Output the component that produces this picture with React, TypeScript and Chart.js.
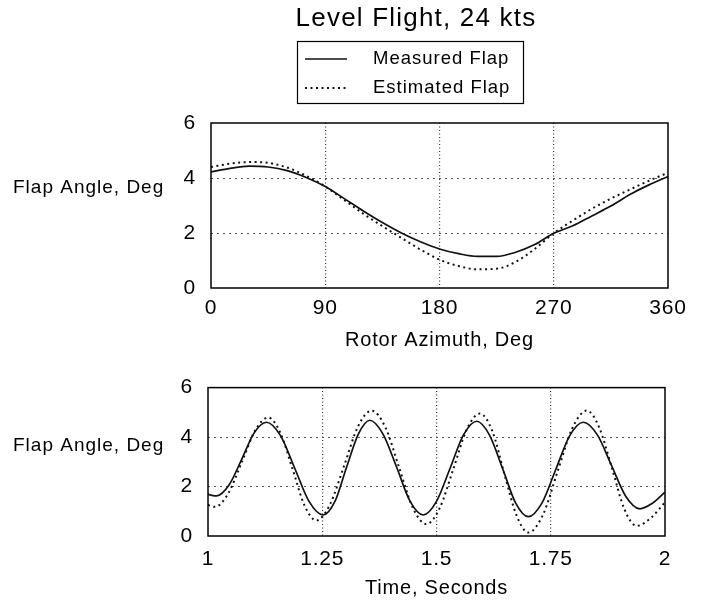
import React, { useEffect, useRef } from 'react';
import { Chart, registerables } from 'chart.js';

Chart.register(...registerables);

// ---------- text ----------
const chartTitle = 'Level Flight, 24 kts';
const seriesNames = ['Measured Flap', 'Estimated Flap'];
const yAxisLabel = 'Flap Angle, Deg';
const topXAxisLabel = 'Rotor Azimuth, Deg';
const bottomXAxisLabel = 'Time, Seconds';

// ---------- ticks ----------
const topXTicks = [0, 90, 180, 270, 360];
const topXTickLabels = ['0', '90', '180', '270', '360'];
const bottomXTicks = [1, 1.25, 1.5, 1.75, 2];
const bottomXTickLabels = ['1', '1.25', '1.5', '1.75', '2'];
const yTicks = [0, 2, 4, 6];
const yTickLabels = ['0', '2', '4', '6'];

// ---------- top panel: flap vs rotor azimuth ----------
const azimuth = [0, 15, 30, 45, 60, 75, 90, 105, 120, 135, 150, 165, 180, 195, 210, 225, 240, 255, 270, 285, 300, 315, 330, 345, 360];
const measuredByAzimuth = [4.22, 4.35, 4.43, 4.4, 4.27, 4.02, 3.69, 3.25, 2.8, 2.38, 2.0, 1.68, 1.42, 1.25, 1.15, 1.15, 1.3, 1.58, 1.99, 2.26, 2.62, 2.98, 3.4, 3.75, 4.05];
const estimatedByAzimuth = [4.4, 4.52, 4.58, 4.55, 4.38, 4.08, 3.69, 3.2, 2.7, 2.25, 1.82, 1.4, 1.03, 0.8, 0.68, 0.7, 0.95, 1.42, 1.99, 2.45, 2.88, 3.25, 3.58, 3.9, 4.19];

// ---------- bottom panel: flap vs time ----------
const measuredTime = [1.0, 1.019, 1.046, 1.074, 1.101, 1.128, 1.159, 1.19, 1.221, 1.252, 1.278, 1.303, 1.329, 1.354, 1.383, 1.413, 1.442, 1.471, 1.5, 1.53, 1.559, 1.588, 1.616, 1.645, 1.673, 1.701, 1.731, 1.761, 1.791, 1.821, 1.852, 1.883, 1.914, 1.945, 1.972, 2.0];
const measuredByTime = [1.68, 1.62, 2.06, 3.11, 4.17, 4.6, 4.05, 2.73, 1.4, 0.85, 1.41, 2.77, 4.12, 4.68, 4.12, 2.77, 1.41, 0.85, 1.4, 2.75, 4.09, 4.64, 4.08, 2.71, 1.34, 0.78, 1.34, 2.69, 4.04, 4.6, 4.09, 2.85, 1.61, 1.1, 1.32, 1.77];
const estimatedTime = [1.0, 1.015, 1.044, 1.074, 1.103, 1.132, 1.158, 1.185, 1.211, 1.237, 1.267, 1.298, 1.328, 1.358, 1.388, 1.418, 1.448, 1.478, 1.507, 1.537, 1.566, 1.595, 1.622, 1.648, 1.675, 1.701, 1.733, 1.765, 1.797, 1.829, 1.856, 1.884, 1.911, 1.938, 1.97, 2.0];
const estimatedByTime = [1.25, 1.18, 1.71, 2.99, 4.26, 4.79, 4.18, 2.71, 1.24, 0.63, 1.28, 2.85, 4.42, 5.07, 4.4, 2.78, 1.15, 0.48, 1.13, 2.72, 4.3, 4.95, 4.25, 2.55, 0.84, 0.14, 0.86, 2.61, 4.35, 5.07, 4.39, 2.74, 1.09, 0.41, 0.75, 1.37];

const FONT = '"Liberation Sans", Arial, Helvetica, sans-serif';

const zip = (xs: number[], ys: number[]) => xs.map((x, i) => ({ x, y: ys[i] }));

const lineStyles = [
  { borderColor: '#111', borderWidth: 1.7, borderDash: [] as number[] },
  { borderColor: '#111', borderWidth: 2, borderDash: [2, 3.5] },
];

const spacingPlugin = {
  id: 'spacing',
  beforeUpdate(chart: any) { chart.ctx.letterSpacing = '0.8px'; },
  beforeDraw(chart: any) { chart.ctx.letterSpacing = '0.8px'; },
};

const framePlugin = {
  id: 'frame',
  afterDatasetsDraw(chart: any) {
    const { ctx, chartArea: a } = chart;
    ctx.save();
    ctx.setLineDash([]);
    ctx.strokeStyle = '#000';
    ctx.lineWidth = 1.5;
    ctx.strokeRect(a.left, a.top, a.right - a.left, a.bottom - a.top);
    ctx.restore();
  },
};

function yLabelPlugin(y: number) {
  return {
    id: 'ylabel',
    afterDraw(chart: any) {
      const ctx = chart.ctx;
      ctx.save();
      ctx.letterSpacing = '1px';
      ctx.font = `19px ${FONT}`;
      ctx.fillStyle = '#000';
      ctx.textAlign = 'left';
      ctx.textBaseline = 'middle';
      ctx.fillText(yAxisLabel, 13, y);
      ctx.restore();
    },
  };
}

const headerPlugin = {
  id: 'header',
  afterDraw(chart: any) {
    const ctx = chart.ctx;
    ctx.save();
    ctx.fillStyle = '#000';
    ctx.letterSpacing = '1.2px';
    ctx.font = `26px ${FONT}`;
    ctx.textAlign = 'center';
    ctx.textBaseline = 'middle';
    ctx.fillText(chartTitle, 416, 19);

    ctx.setLineDash([]);
    ctx.strokeStyle = '#000';
    ctx.lineWidth = 1.2;
    ctx.strokeRect(297.5, 41.5, 226, 62);

    const rows = [59, 88];
    chart.data.datasets.forEach((ds: any, i: number) => {
      const y = rows[i];
      ctx.save();
      ctx.setLineDash(ds.borderDash || []);
      ctx.lineWidth = ds.borderWidth;
      ctx.strokeStyle = ds.borderColor;
      ctx.beginPath();
      ctx.moveTo(305, y);
      ctx.lineTo(347, y);
      ctx.stroke();
      ctx.restore();
      ctx.letterSpacing = '1px';
      ctx.font = `18.5px ${FONT}`;
      ctx.textAlign = 'left';
      ctx.textBaseline = 'middle';
      ctx.fillText(ds.label, 373, y);
    });
    ctx.restore();
  },
};

function gridColor(min: number, max: number, color: string) {
  return (c: any) => {
    const v = c.tick ? c.tick.value : null;
    if (v === null || Math.abs(v - min) < 1e-9 || Math.abs(v - max) < 1e-9) return 'rgba(0,0,0,0)';
    return color;
  };
}

function makeConfig(opts: {
  datasets: any[];
  xMin: number; xMax: number; xTicks: number[]; xLabels: string[]; xTitle: string;
  padTop: number; padBottom: number; padRight: number; yWidth: number; xHeight: number;
  xTickPad: number; plugins: any[];
}) {
  return {
    type: 'line' as const,
    data: { datasets: opts.datasets },
    options: {
      animation: false,
      responsive: false,
      maintainAspectRatio: false,
      elements: { point: { radius: 0 }, line: { cubicInterpolationMode: 'monotone' } },
      layout: { padding: { top: opts.padTop, bottom: opts.padBottom, right: opts.padRight, left: 0 } },
      plugins: { legend: { display: false }, title: { display: false }, tooltip: { enabled: false } },
      scales: {
        x: {
          type: 'linear',
          min: opts.xMin,
          max: opts.xMax,
          afterBuildTicks: (s: any) => { s.ticks = opts.xTicks.map((v) => ({ value: v })); },
          afterFit: (s: any) => { s.height = opts.xHeight; },
          ticks: {
            autoSkip: false,
            maxRotation: 0,
            padding: opts.xTickPad,
            color: '#000',
            font: { family: FONT, size: 21 },
            callback: (v: number) => opts.xLabels[opts.xTicks.findIndex((t) => Math.abs(t - v) < 1e-9)],
          },
          grid: { drawTicks: false, lineWidth: 1.2, color: gridColor(opts.xMin, opts.xMax, '#333') },
          border: { display: false, dash: [1, 2.5] },
          title: { display: true, text: opts.xTitle, color: '#000', font: { family: FONT, size: 20 }, padding: { top: 0, bottom: 0 } },
        },
        y: {
          type: 'linear',
          min: 0,
          max: 6,
          afterBuildTicks: (s: any) => { s.ticks = yTicks.map((v) => ({ value: v })); },
          afterFit: (s: any) => { s.width = opts.yWidth; },
          ticks: {
            padding: 15,
            color: '#000',
            font: { family: FONT, size: 21 },
            callback: (v: number) => yTickLabels[yTicks.indexOf(v)],
          },
          grid: { drawTicks: false, lineWidth: 1, color: gridColor(0, 6, '#555') },
          border: { display: false, dash: [2, 4] },
        },
      },
    },
    plugins: opts.plugins,
  };
}

export default function App() {
  const topRef = useRef<HTMLCanvasElement>(null);
  const bottomRef = useRef<HTMLCanvasElement>(null);

  useEffect(() => {
    const top = new Chart(topRef.current as HTMLCanvasElement, makeConfig({
      datasets: [
        { label: seriesNames[0], data: zip(azimuth, measuredByAzimuth), ...lineStyles[0] },
        { label: seriesNames[1], data: zip(azimuth, estimatedByAzimuth), ...lineStyles[1] },
      ],
      xMin: 0, xMax: 360, xTicks: topXTicks, xLabels: topXTickLabels, xTitle: topXAxisLabel,
      padTop: 123, padBottom: 8, padRight: 34, yWidth: 211, xHeight: 64, xTickPad: 8,
      plugins: [spacingPlugin, framePlugin, yLabelPlugin(188), headerPlugin],
    }) as any);

    const bottom = new Chart(bottomRef.current as HTMLCanvasElement, makeConfig({
      datasets: [
        { label: seriesNames[0], data: zip(measuredTime, measuredByTime), ...lineStyles[0] },
        { label: seriesNames[1], data: zip(estimatedTime, estimatedByTime), ...lineStyles[1] },
      ],
      xMin: 1, xMax: 2, xTicks: bottomXTicks, xLabels: bottomXTickLabels, xTitle: bottomXAxisLabel,
      padTop: 17, padBottom: 7, padRight: 37, yWidth: 208, xHeight: 64, xTickPad: 11,
      plugins: [spacingPlugin, framePlugin, yLabelPlugin(86)],
    }) as any);

    return () => { top.destroy(); bottom.destroy(); };
  }, []);

  return (
    <div style={{ position: 'absolute', left: 0, top: 0, width: 702, height: 607, background: '#fff' }}>
      <canvas ref={topRef} width={702} height={360} style={{ position: 'absolute', left: 0, top: 0 }} />
      <canvas ref={bottomRef} width={702} height={247} style={{ position: 'absolute', left: 0, top: 360 }} />
    </div>
  );
}
